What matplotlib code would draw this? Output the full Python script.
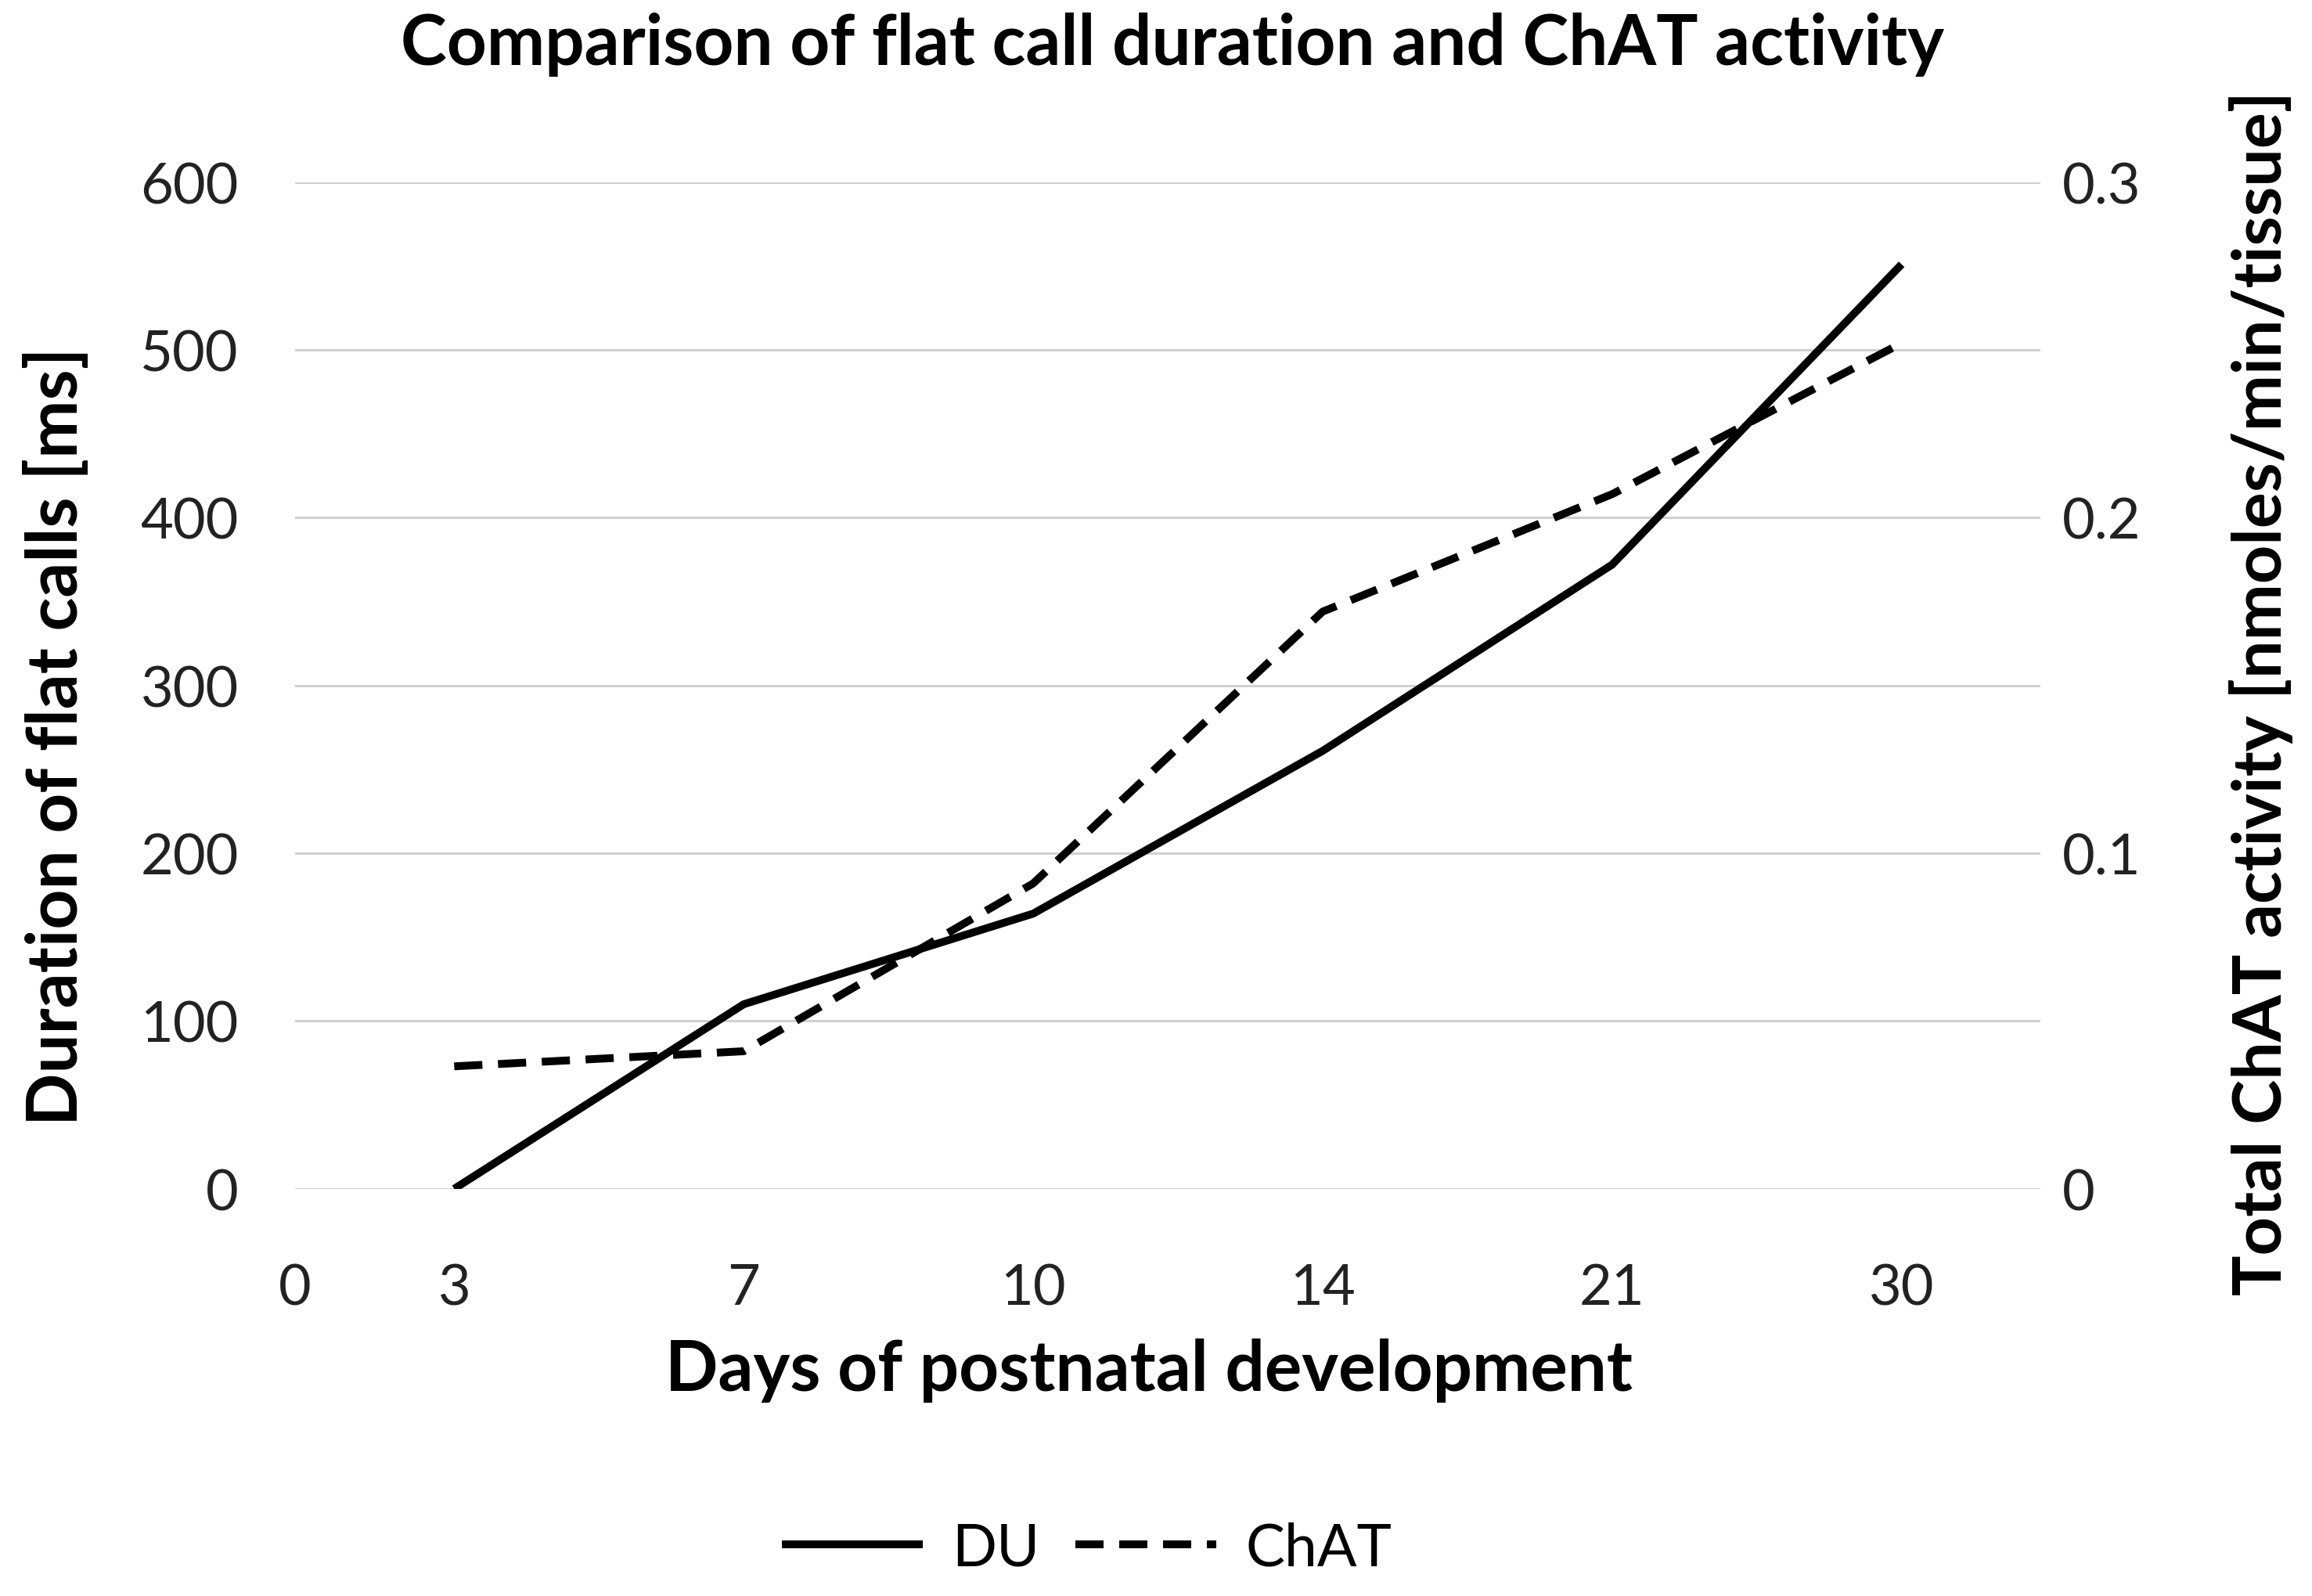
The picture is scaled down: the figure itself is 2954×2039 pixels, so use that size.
import numpy as np
import matplotlib.pyplot as plt

plt.rcParams['font.family'] = ['Lato', 'DejaVu Sans']

days = ['0', '3', '7', '10', '14', '21', '30']
# days actually sampled (index 1..6 on the category axis)
du = [0, 110, 164, 261, 372, 551]
chat = [0.0365, 0.041, 0.091, 0.172, 0.207, 0.252]

xpos = np.arange(len(du))
tickpos = np.concatenate([[-0.55], xpos])

fig = plt.figure(figsize=(14.77, 10.2), dpi=200)
ax = fig.add_axes([0.1276, 0.255, 0.755, 0.6305])
ax2 = ax.twinx()

ax.plot(xpos, du, color='black', linewidth=3.6, solid_capstyle='butt', label='DU')
ax2.plot(xpos, chat, color='black', linewidth=3.6, linestyle=(0, (3.6, 2.0)),
         dash_capstyle='butt', label='ChAT')

ax.set_xlim(-0.505, 5.48)
ax.set_ylim(0, 600)
ax2.set_ylim(0, 0.3)
ax.set_yticks(np.arange(0, 601, 100))
ax2.set_yticks([0, 0.1, 0.2, 0.3])
ax2.set_yticklabels(['0', '0.1', '0.2', '0.3'])
ax.set_xticks(tickpos)
ax.set_xticklabels(days)

ax.grid(axis='y', color='#d0d0d0', linewidth=1.1)
ax.set_axisbelow(True)
for a in (ax, ax2):
    for s in a.spines.values():
        s.set_visible(False)
ax.tick_params(axis='both', length=0, labelsize=26, colors='#222222')
ax.tick_params(axis='y', pad=26)
ax.tick_params(axis='x', pad=34)
ax2.tick_params(axis='y', length=0, labelsize=26, colors='#222222', pad=10)

ax.set_xlabel('Days of postnatal development', fontsize=32, fontweight='bold')
ax.xaxis.set_label_coords(0.489, -0.148)
ax.set_ylabel('Duration of flat calls [ms]', fontsize=32, fontweight='bold')
ax.yaxis.set_label_coords(-0.118, 0.45)
ax2.set_ylabel('Total ChAT activity [nmoles/min/tissue]', fontsize=31, fontweight='bold')
ax2.yaxis.set_label_coords(1.108, 0.493)

fig.text(0.507, 0.972, 'Comparison of flat call duration and ChAT activity', fontsize=32,
         fontweight='bold', ha='center', va='center')

h1, l1 = ax.get_legend_handles_labels()
h2, l2 = ax2.get_legend_handles_labels()
fig.legend(h1 + h2, l1 + l2, loc='center', bbox_to_anchor=(0.47, 0.03), ncol=2,
           frameon=False, fontsize=27, handlelength=2.4, columnspacing=0.6,
           handletextpad=0.5)

fig.savefig('out.png', dpi=200, facecolor='white')
